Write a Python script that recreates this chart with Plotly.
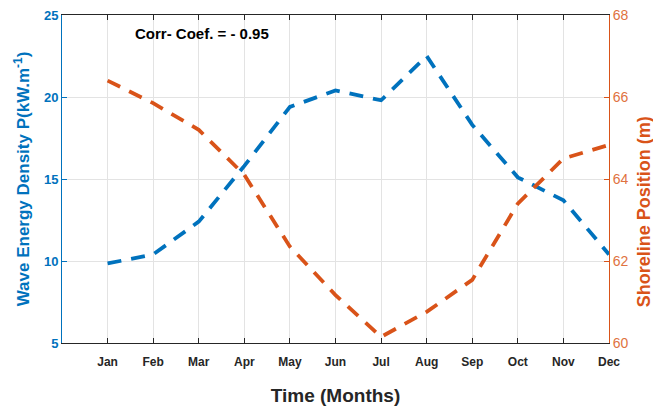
import plotly.graph_objects as go

months = ["Jan", "Feb", "Mar", "Apr", "May", "Jun", "Jul", "Aug", "Sep", "Oct", "Nov", "Dec"]
month_pos = [1, 2, 3, 4, 5, 6, 7, 8, 9, 10, 11, 12]
wave_energy = [9.85, 10.4, 12.4, 15.8, 19.4, 20.4, 19.8, 22.5, 18.3, 15.1, 13.7, 10.4]
shoreline = [66.4, 65.85, 65.2, 64.1, 62.35, 61.17, 60.15, 60.76, 61.54, 63.4, 64.5, 64.83]
left_ticks = [5, 10, 15, 20, 25]
right_ticks = [60, 62, 64, 66, 68]

BLUE = "#0072BD"
ORANGE = "#D95319"
ORANGE_LIGHT = "#E07240"
FONT = "Liberation Sans, Arial, sans-serif"

fig = go.Figure()
fig.add_trace(go.Scatter(x=month_pos, y=wave_energy, mode="lines",
                         line=dict(color=BLUE, width=3.8, dash="14px,10px"),
                         yaxis="y", showlegend=False))
fig.add_trace(go.Scatter(x=month_pos, y=shoreline, mode="lines",
                         line=dict(color=ORANGE, width=3.8, dash="14px,10px"),
                         yaxis="y2", showlegend=False))

fig.update_layout(
    width=653, height=411,
    margin=dict(l=62, r=44, t=15, b=68),
    plot_bgcolor="white", paper_bgcolor="white",
    font=dict(family=FONT),
    xaxis=dict(range=[0, 12], tickvals=month_pos, ticktext=months,
               automargin=False,
               showgrid=True, gridcolor="#e3e3e3", gridwidth=1,
               ticks="inside", ticklen=5, tickcolor="#262626",
               showline=True, linecolor="#262626", linewidth=1, mirror="ticks",
               tickfont=dict(size=12, color="#262626", weight="bold"),
               ticklabelstandoff=8,
               title=dict(text="Time (Months)", font=dict(size=19, color="#262626", weight="bold"), standoff=20),
               zeroline=False),
    yaxis=dict(range=[5, 25], tickvals=left_ticks, automargin=False,
               showgrid=True, gridcolor="#e3e3e3", gridwidth=1,
               ticks="inside", ticklen=5, tickcolor=BLUE,
               showline=True, linecolor=BLUE, linewidth=1,
               tickfont=dict(size=13, color=BLUE, weight="bold"),
               title=dict(text="Wave Energy Density P(kW.m<sup>-1</sup>)", font=dict(size=17, color=BLUE, weight="bold"), standoff=9),
               zeroline=False),
    yaxis2=dict(range=[60, 68], tickvals=right_ticks, overlaying="y", side="right",
                automargin=False, showgrid=False,
                ticks="inside", ticklen=5, tickcolor=ORANGE,
                showline=True, linecolor=ORANGE, linewidth=1,
                tickfont=dict(size=14, color=ORANGE_LIGHT),
                zeroline=False),
    annotations=[
        dict(text="Corr- Coef. = - 0.95", x=0.13, y=0.945, xref="paper", yref="paper",
             xanchor="left", yanchor="middle", showarrow=False,
             font=dict(size=15, color="black", weight="bold")),
        dict(text="Shoreline Position (m)", x=1.063, y=0.40, xref="paper", yref="paper",
             xanchor="center", yanchor="middle", textangle=-90, showarrow=False,
             font=dict(size=18, color=ORANGE, weight="bold")),
    ],
)

fig.write_html("out.html")
